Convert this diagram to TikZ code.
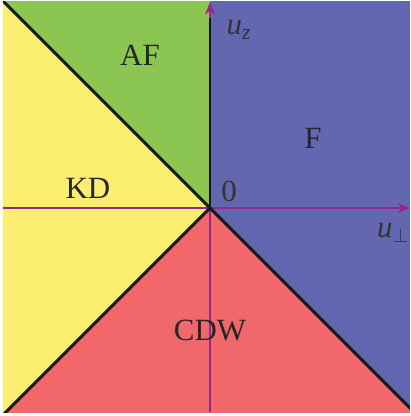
\documentclass[tikz,border=0pt]{standalone}
\usepackage{fontspec}
\setmainfont{Liberation Serif}
\usepackage{xcolor}
\usetikzlibrary{arrows.meta}

\definecolor{kdyellow}{RGB}{250,237,112}
\definecolor{afgreen}{RGB}{139,198,83}
\definecolor{fblue}{RGB}{98,103,176}
\definecolor{cdwred}{RGB}{240,104,106}
\definecolor{axispurple}{RGB}{150,40,140}

\begin{document}
\begin{tikzpicture}[
  x=0.025cm, y=0.025cm,
  phase/.style={font=\fontsize{22}{26}\selectfont, text=black!85},
  border/.style={line width=2.1pt, black!90},
  axis/.style={line width=1pt, axispurple, -{Stealth[length=9pt, width=7pt]}},
  axislbl/.style={font=\fontsize{22}{26}\selectfont, text=black!80}
]
\useasboundingbox (-210,-208) rectangle (200,208);

% phase regions
\begin{scope}
\clip (-207,-204) rectangle (200,207);
\fill[fblue] (0,0) -- (0,210) -- (210,210) -- (210,-210) -- cycle;
\fill[afgreen] (0,0) -- (-210,210) -- (0,210) -- cycle;
\fill[kdyellow] (0,0) -- (-210,210) -- (-210,-210) -- cycle;
\fill[cdwred] (0,0) -- (-210,-210) -- (210,-210) -- cycle;
\end{scope}

% axes
\coordinate (o) at (0,0);
\coordinate (xl) at (-207,0);
\coordinate (xr) at (200,0);
\coordinate (yb) at (0,-204);
\coordinate (yt) at (0,206);
\draw[axis] (xl) -- (xr);
\draw[axis] (yb) -- (yt);

% boundaries
\begin{scope}
\clip (-207,-204) rectangle (200,207);
\draw[border] (o) -- (-210,210);
\draw[border] (o) -- (-210,-210);
\draw[border] (o) -- (210,-210);
\draw[border] (o) -- (0,190);
\end{scope}

\node[axislbl] (uz) at (29,178) {\textit{u}\textsubscript{\textit{z}}};
\node[axislbl] (uperp) at (183,-25) {\textit{u}$_{\perp}$};
\node[axislbl] (zero) at (19,17) {0};

% phase labels
\node[phase] (af) at (-70,153) {AF};
\node[phase] (f) at (103,70) {F};
\node[phase] (kd) at (-122,20) {KD};
\node[phase] (cdw) at (0,-122) {CDW};
\end{tikzpicture}
\end{document}
